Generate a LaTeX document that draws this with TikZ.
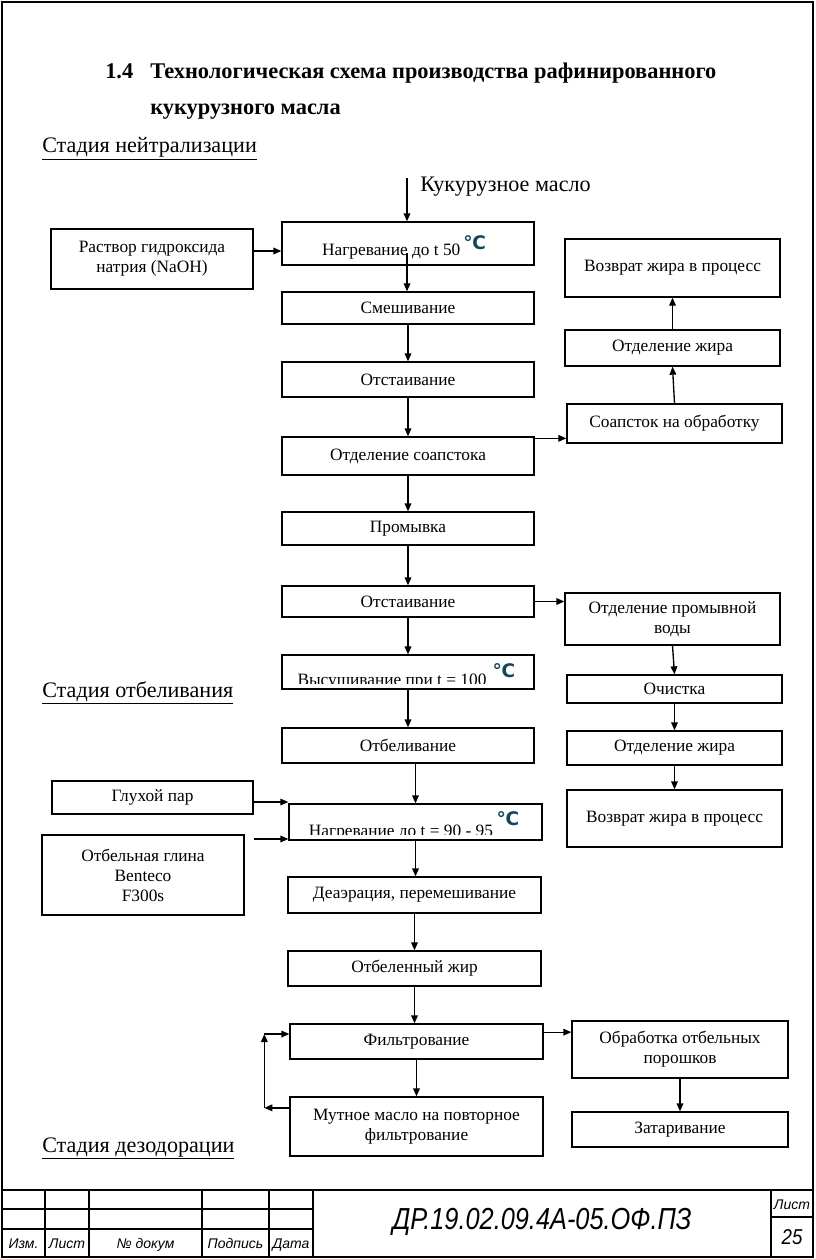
\documentclass[tikz,border=0pt]{standalone}
\usepackage{fontspec}
\setmainfont{Liberation Serif}
\newfontfamily\dejavu{DejaVu Sans}
\newfontfamily\stampsans{Liberation Sans}
\usetikzlibrary{arrows.meta}
\definecolor{degc}{RGB}{20,70,90}
\newcommand\degC{{\dejavu\bfseries\color{degc}\fontsize{14}{14}\selectfont ℃}}
\newcommand\bx[6]{\node[box, minimum width={(#4-#2)*0.75pt}, minimum height={(#5-#3)*0.75pt}] (#1) at ({(#2+#4)/2},{(#3+#5)/2}) {#6};}
\begin{document}
\begin{tikzpicture}[x=0.75pt,y=-0.75pt,
  box/.style={draw, line width=1pt, inner sep=0pt, align=center, font=\fontsize{13}{15}\selectfont},
  txt/.style={inner sep=0pt, font=\fontsize{13}{15}\selectfont},
  arr/.style={line width=1pt, -{Triangle[length=6pt,width=5pt]}},
  lbl/.style={inner sep=0pt, anchor=base west, font=\fontsize{16.6}{19}\selectfont},
  ttl/.style={inner sep=0pt, anchor=base west, font=\bfseries\fontsize{16.8}{19}\selectfont},
  frame/.style={line width=2.2pt},
  thinline/.style={line width=0.9pt},
  st/.style={inner sep=0pt, anchor=base, font=\stampsans\itshape\fontsize{10.5}{12}\selectfont}
]
\useasboundingbox (0,0) rectangle (816,1259);

% title and stage labels
\node[ttl] (t0) at (105,79) {1.4};
\node[ttl] (t1) at (150,79) {Технологическая схема производства рафинированного};
\node[ttl] (t2) at (150,115) {кукурузного масла};
\node[lbl] (s1) at (42,153) {\underline{Стадия нейтрализации}};
\node[lbl] (s2) at (42,697) {\underline{Стадия отбеливания}};
\node[lbl] (s3) at (42,1152) {\underline{Стадия дезодорации}};
\node[lbl] (oil) at (420,191) {Кукурузное масло};

% main column
\bx{n1}{282}{222}{534}{265}{}
\node[txt, anchor=base] (n1t) at (404,255) {Нагревание до t 50\,\raisebox{4pt}{\degC}};
\bx{n2}{282}{292}{534}{324}{Смешивание}
\bx{n3}{282}{362}{534}{397}{Отстаивание}
\bx{n4}{282}{437}{534}{475}{Отделение соапстока}
\bx{n5}{282}{512}{534}{545}{Промывка}
\bx{n6}{282}{586}{534}{617}{Отстаивание}
\bx{n7}{282}{655}{534}{689}{}
\begin{scope}
\clip (283,656) rectangle (533,683);
\node[txt, anchor=base] (n7t) at (392,685) {Высушивание при t = 100};
\end{scope}
\node[inner sep=0pt] (n7c) at (504,671) {\degC};
\bx{n8}{282}{728}{534}{763}{Отбеливание}
\bx{n9}{289}{804}{542}{840}{}
\begin{scope}
\clip (290,805) rectangle (541,834);
\node[txt, anchor=base] (n9t) at (401,836) {Нагревание до t = 90 - 95};
\end{scope}
\node[inner sep=0pt] (n9c) at (508,819) {\degC};
\bx{n10}{288}{877}{541}{913}{Деаэрация, перемешивание}
\bx{n11}{288}{951}{541}{986}{Отбеленный жир}
\bx{n12}{290}{1024}{543}{1059}{Фильтрование}
\bx{n13}{290}{1097}{543}{1156}{Мутное масло на повторное\\фильтрование}

% left column
\bx{naoh}{51}{229}{253}{289}{Раствор гидроксида\\натрия (NaOH)}
\bx{par}{52}{781}{253}{814}{Глухой пар}
\bx{clay}{42}{835}{244}{915}{Отбельная глина\\Benteco\\F300s}

% right column
\bx{r1}{565}{239}{780}{297}{Возврат жира в процесс}
\bx{r2}{565}{330}{780}{366}{Отделение жира}
\bx{r3}{567}{404}{782}{443}{Соапсток на обработку}
\bx{r4}{565}{593}{780}{645}{Отделение промывной\\воды}
\bx{r5}{567}{675}{782}{703}{Очистка}
\bx{r6}{567}{731}{782}{765}{Отделение жира}
\bx{r7}{567}{790}{782}{847}{Возврат жира в процесс}
\bx{r8}{572}{1021}{788}{1078}{Обработка отбельных\\порошков}
\bx{r9}{572}{1112}{788}{1147}{Затаривание}

% connectors, main column
\coordinate (src) at (407,178);
\draw[arr] (src) -- (src |- n1.north);
\coordinate (n1in) at (407,253);
\draw[arr] (n1in) -- (n1in |- n2.north);
\draw[arr] (n2.south) -- (n3.north);
\draw[arr] (n3.south) -- (n4.north);
\draw[arr] (n4.south) -- (n5.north);
\draw[arr] (n5.south) -- (n6.north);
\draw[arr] (n6.south) -- (n7.north);
\draw[arr] (n7.south) -- (n8.north);
\draw[arr] (n8.south -| n9.north) -- (n9.north);
\draw[arr] (n9.south) -- (n9.south |- n10.north);
\draw[arr] (n10.south) -- (n11.north);
\draw[arr] (n11.south) -- (n11.south |- n12.north);
\draw[arr] (n12.south) -- (n13.north);

% side inputs
\draw[arr] ([yshift=6pt]naoh.east) coordinate (a1) -- (a1 -| n1.west);
\draw[arr] ([yshift=-3.4pt]par.east) coordinate (a2) -- (a2 -| n9.west);
\draw[arr] ([shift={(7pt,27pt)}]clay.east) coordinate (a3) -- (a3 -| n9.west);

% side outputs
\draw[arr] ([yshift=-1.5pt]n4.north east) coordinate (b1) -- (b1 -| r3.west);
\draw[arr] (r3.north) -- (r2.south);
\draw[arr] (r2.north) -- (r1.south);
\draw[arr] (n6.east) -- (n6.east -| r4.west);
\draw[arr] (r4.south) -- (r5.north);
\draw[arr] (r5.south) -- (r6.north);
\draw[arr] (r6.south) -- (r7.north);
\draw[arr] ([yshift=7pt]n12.east) coordinate (b2) -- (b2 -| r8.west);
\draw[arr] (r8.south) -- (r9.north);

% loop back
\draw[arr] ([yshift=14pt]n13.west) coordinate (c1) -- ++(-25,0) coordinate (c2);
\coordinate (c3) at ([yshift=5.6pt]n12.west);
\draw[arr] (c2) -- (c2 |- c3) coordinate (c4);
\draw[arr] (c4) -- (c3);

% frame and stamp
\draw[frame] (2,2) rectangle (813,1257);
\draw[frame] (2,1190) -- (813,1190);
\foreach \xx in {45,89,202,269,313,771} \draw[frame] (\xx,1190) -- (\xx,1257);
\draw[thinline] (2,1209) -- (313,1209);
\draw[frame] (2,1229) -- (313,1229);
\draw[thinline] (771,1217) -- (813,1217);
\node[st] (h1) at (23.5,1248) {Изм.};
\node[st] (h2) at (67,1248) {Лист};
\node[st] (h3) at (145.5,1248) {№ докум};
\node[st] (h4) at (235.5,1248) {Подпись};
\node[st] (h5) at (291,1248) {Дата};
\node[st] (h6) at (792,1209) {Лист};
\node[inner sep=0pt, font=\stampsans\itshape\fontsize{14}{16}\selectfont] (pg) at (792,1237) {\scalebox{1}[1.15]{25}};
\node[inner sep=0pt, font=\stampsans\itshape\fontsize{19}{22}\selectfont] (code) at (542,1222) {\scalebox{1}[1.2]{ДР.19.02.09.4А-05.ОФ.ПЗ}};
\end{tikzpicture}
\end{document}
